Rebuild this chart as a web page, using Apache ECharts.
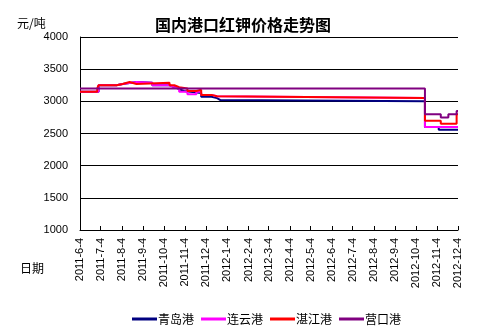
<!DOCTYPE html>
<html>
<head>
<meta charset="utf-8">
<script src="https://cdn.jsdelivr.net/npm/echarts@6/dist/echarts.min.js"></script>
<style>
html,body{margin:0;padding:0;background:#fff;}
#chart{width:486px;height:334px;}
</style>
</head>
<body>
<div id="chart"></div>
<script>
// ---- Data ----
const tickLabels = ['2011-6-4','2011-7-4','2011-8-4','2011-9-4','2011-10-4','2011-11-4','2011-12-4',
  '2012-1-4','2012-2-4','2012-3-4','2012-4-4','2012-5-4','2012-6-4','2012-7-4','2012-8-4',
  '2012-9-4','2012-10-4','2012-11-4','2012-12-4'];
const seriesNames = ['青岛港','连云港','湛江港','营口港'];

// change points: [date, price]; value holds until next date
const qingdao = [
  ['2011-6-4',3150],['2011-7-1',3250],['2011-7-27',3270],['2011-8-5',3300],['2011-8-25',3290],
  ['2011-9-17',3250],['2011-10-12',3220],['2011-10-19',3190],['2011-10-26',3160],['2011-11-2',3130],
  ['2011-11-27',3070],['2011-12-12',3050],['2011-12-20',3020],['2011-12-25',3000],
  ['2012-10-17',2600],['2012-11-6',2560],['2012-12-4',2560]
];
const lianyun = [
  ['2011-6-4',3150],['2011-7-1',3250],['2011-7-27',3270],['2011-8-5',3300],['2011-8-25',3290],
  ['2011-9-17',3250],['2011-10-12',3220],['2011-10-19',3200],['2011-10-26',3150],['2011-11-7',3110],
  ['2011-11-20',3150],['2011-11-27',3100],['2011-12-12',3080],['2011-12-20',3050],
  ['2012-10-17',2600],['2012-12-4',2600]
];
const zhanjiang = [
  ['2011-6-4',3150],['2011-6-29',3200],['2011-7-1',3250],['2011-7-27',3270],['2011-8-5',3300],
  ['2011-8-15',3270],['2011-8-25',3290],['2011-10-12',3250],['2011-10-19',3220],['2011-10-26',3200],
  ['2011-11-7',3160],['2011-11-20',3180],['2011-11-27',3100],['2011-12-12',3080],['2011-12-20',3050],
  ['2012-10-17',2700],['2012-11-9',2650],['2012-12-2',2800],['2012-12-4',2800]
];
const yingkou = [
  ['2011-6-4',3200],['2012-10-17',2800],['2012-11-9',2750],['2012-11-20',2800],
  ['2012-12-2',2850],['2012-12-4',2850]
];

// ---- Helpers ----
function toTime(s){ const p = s.split('-').map(Number); return new Date(p[0], p[1]-1, p[2]).getTime(); }
function fmt(t){ const d = new Date(t); return d.getFullYear()+'-'+(d.getMonth()+1)+'-'+d.getDate(); }
const tickTimes = tickLabels.map(toTime);
const colors = ['#000080','#FF00FF','#FF0000','#800080'];
const allData = [qingdao, lianyun, zhanjiang, yingkou];

const chart = echarts.init(document.getElementById('chart'), null, {renderer:'canvas'});
const baseFont = 'Liberation Sans, Arial, sans-serif';
const cjkFont = '"Noto Sans CJK SC", sans-serif';

chart.setOption({
  animation: false,
  backgroundColor: '#fff',
  title: {
    text: '国内港口红钾价格走势图',
    left: 'center', top: 12,
    textStyle: { fontSize: 16, fontWeight: 'bold', color: '#000', fontFamily: cjkFont }
  },
  graphic: [
    { type:'text', left: 17, top: 17, style:{ text:'元/吨', fontSize: 12, fill:'#000', fontFamily: cjkFont } },
    { type:'text', left: 20, top: 262, style:{ text:'日期', fontSize: 12, fill:'#000', fontFamily: cjkFont } }
  ],
  legend: {
    left: 127, top: 308,
    icon: 'rect', itemWidth: 25, itemHeight: 3, itemGap: 7,
    textStyle: { fontSize: 12, color:'#000', fontFamily: cjkFont, padding:[0,0,0,-4] },
    data: seriesNames
  },
  grid: { left: 80, top: 37, width: 378, height: 193, containLabel: false },
  xAxis: {
    type: 'value',
    min: tickTimes[0], max: tickTimes[tickTimes.length-1],
    axisLine: { show: true, lineStyle: { color:'#000', width: 1 } },
    axisTick: { show: true, inside: true, length: 4, customValues: tickTimes, lineStyle:{color:'#000'} },
    axisLabel: {
      customValues: tickTimes, rotate: 90, margin: 8,
      formatter: v => fmt(v),
      fontSize: 11, color: '#000', fontFamily: baseFont
    },
    splitLine: { show: false }
  },
  yAxis: {
    type: 'value', min: 1000, max: 4000, interval: 500,
    axisLine: { show: true, lineStyle: { color:'#000', width: 1 } },
    axisTick: { show: false },
    axisLabel: { margin: 12, fontSize: 11, color:'#000', fontFamily: baseFont, formatter: v => String(v) },
    splitLine: { show: true, lineStyle: { color:'#000', width: 1 } }
  },
  series: allData.map((d, i) => ({
    name: seriesNames[i],
    type: 'line',
    step: 'end',
    showSymbol: false,
    symbol: 'none',
    lineStyle: { color: colors[i], width: 2 },
    itemStyle: { color: colors[i] },
    data: d.map(p => [toTime(p[0]), p[1]])
  }))
});
</script>
</body>
</html>
